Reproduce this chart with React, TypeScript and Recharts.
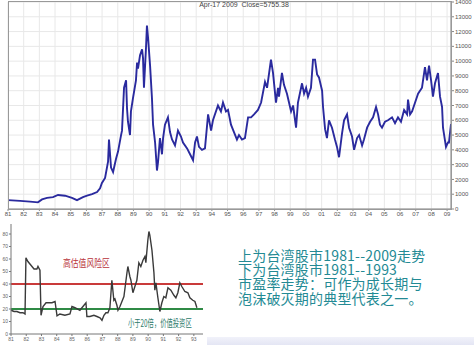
import React from 'react';
import { LineChart, Line, XAxis, YAxis, CartesianGrid, ReferenceLine } from 'recharts';

// 台湾加权指数 1981-2009（读图估值，横轴为年份小数）
const indexYears = [
  1981.0, 1981.77, 1982.4, 1982.91, 1983.17, 1983.49, 1983.87, 1984.19, 1984.64, 1985.08,
  1985.4, 1985.78, 1986.04, 1986.36, 1986.68, 1986.87, 1986.99, 1987.19, 1987.38, 1987.44,
  1987.57, 1987.7, 1987.89, 1988.02, 1988.21, 1988.27, 1988.4, 1988.53, 1988.59, 1988.65,
  1988.78, 1988.84, 1988.97, 1989.16, 1989.23, 1989.29, 1989.42, 1989.55, 1989.61, 1989.67,
  1989.8, 1989.86, 1989.93, 1990.06, 1990.18, 1990.25, 1990.38, 1990.5, 1990.57, 1990.69,
  1990.82, 1990.89, 1991.01, 1991.2, 1991.33, 1991.46, 1991.65, 1991.84, 1992.03, 1992.16,
  1992.42, 1992.61, 1992.8, 1992.93, 1993.05, 1993.18, 1993.37, 1993.56, 1993.76, 1993.95,
  1994.07, 1994.39, 1994.58, 1994.71, 1994.9, 1995.03, 1995.22, 1995.41, 1995.6, 1995.73,
  1995.92, 1996.11, 1996.31, 1996.5, 1996.69, 1996.94, 1997.14, 1997.39, 1997.52, 1997.77,
  1997.9, 1998.09, 1998.22, 1998.28, 1998.47, 1998.6, 1998.79, 1998.92, 1999.05, 1999.18,
  1999.37, 1999.49, 1999.75, 1999.88, 2000.01, 2000.13, 2000.32, 2000.45, 2000.58, 2000.71,
  2000.83, 2001.03, 2001.09, 2001.22, 2001.34, 2001.47, 2001.66, 2001.85, 2001.98, 2002.11,
  2002.3, 2002.43, 2002.62, 2002.75, 2002.94, 2003.07, 2003.26, 2003.39, 2003.58, 2003.7,
  2003.9, 2004.09, 2004.28, 2004.47, 2004.6, 2004.72, 2004.85, 2005.04, 2005.23, 2005.49,
  2005.68, 2005.87, 2006.06, 2006.26, 2006.45, 2006.51, 2006.64, 2006.77, 2006.96, 2007.15,
  2007.4, 2007.59, 2007.72, 2007.85, 2007.98, 2008.1, 2008.23, 2008.42, 2008.55, 2008.68,
  2008.74, 2008.93, 2009.06, 2009.12, 2009.25,
];
const indexValues = [
  600, 550, 500, 450, 650, 750, 800, 950, 900, 750,
  600, 800, 900, 1000, 1150, 1400, 1760, 2100, 3200, 4700,
  2800, 2500, 3400, 3900, 5000, 5300, 8200, 8700, 6800, 5900,
  5000, 6600, 7500, 8700, 9900, 9500, 10400, 10800, 10200, 8200,
  10900, 12400, 11600, 9700, 7500, 5700, 4500, 2600, 3200, 4800,
  3700, 4800, 5700, 6200, 5200, 4700, 4300, 5300, 4900, 4500,
  4100, 3700, 3300, 4500, 4900, 4200, 4000, 4100, 6400, 5300,
  6000, 7000, 6600, 7200, 6600, 6700, 5700, 5200, 4700, 5000,
  4700, 4800, 6200, 6200, 6400, 6700, 7200, 8600, 8200, 10100,
  9200, 7200, 8200, 7600, 9200, 8400, 7800, 7200, 6600, 7000,
  5500, 7200, 8500, 7800, 8200, 7600, 8200, 10100, 10100, 9100,
  8900, 8000, 6900, 5400, 4800, 6000, 5500, 4700, 4200, 3500,
  5100, 6000, 6400, 5500, 4900, 4000, 4800, 5000, 4300, 4700,
  5500, 5900, 6200, 6900, 6400, 5700, 5500, 5900, 6000, 6200,
  5800, 6200, 5900, 6700, 6400, 7400, 6400, 6600, 7200, 7800,
  8200, 9600, 8700, 9700, 8700, 7600, 8500, 9200, 7600, 6900,
  5500, 4200, 4500, 4500, 5750,
];

// 台湾股市市盈率 1981-1993
const peYears = [
  1981.0, 1981.2, 1981.39, 1981.59, 1981.79, 1981.92, 1981.98, 1982.11, 1982.31, 1982.51,
  1982.7, 1982.77, 1982.9, 1982.97, 1983.1, 1983.3, 1983.69, 1983.89, 1984.02, 1984.21,
  1984.54, 1984.87, 1985.0, 1985.2, 1985.52, 1985.79, 1985.92, 1985.98, 1986.18, 1986.44,
  1986.64, 1986.84, 1986.97, 1987.1, 1987.23, 1987.36, 1987.49, 1987.62, 1987.75, 1987.82,
  1987.95, 1988.02, 1988.15, 1988.28, 1988.41, 1988.61, 1988.67, 1988.8, 1988.87, 1989.0,
  1989.13, 1989.26, 1989.39, 1989.52, 1989.66, 1989.79, 1989.85, 1989.98, 1990.05, 1990.11,
  1990.25, 1990.38, 1990.44, 1990.51, 1990.64, 1990.77, 1990.9, 1991.03, 1991.16, 1991.3,
  1991.49, 1991.69, 1991.82, 1991.95, 1992.08, 1992.21, 1992.41, 1992.61, 1992.74, 1992.93,
  1993.07, 1993.2,
];
const peValues = [
  19, 18, 18, 17, 17, 16, 61, 58, 55, 52,
  52, 54, 51, 15, 22, 25, 25, 26, 14.5, 16,
  15, 16, 22, 21, 19, 23, 25, 14, 14, 15,
  14, 13, 11, 15, 17, 17, 21, 43, 27, 28,
  23, 19, 22, 26, 30, 49, 54, 46, 43, 33,
  38, 43, 57, 54, 59, 62, 57, 75, 82, 79,
  67, 49, 35, 41, 29, 18, 25, 30, 29, 37,
  35, 31, 29, 33, 41, 38, 34, 33, 29, 27,
  26, 21,
];

const yearTicks = [
  1981, 1982, 1983, 1984, 1985, 1986, 1987, 1988, 1989, 1990, 1991, 1992, 1993, 1994, 1995,
  1996, 1997, 1998, 1999, 2000, 2001, 2002, 2003, 2004, 2005, 2006, 2007, 2008, 2009,
];
const yearLabels = [
  '81', '82', '83', '84', '85', '86', '87', '88', '89', '90', '91', '92', '93', '94', '95',
  '96', '97', '98', '99', '00', '01', '02', '03', '04', '05', '06', '07', '08', '09',
];
const indexTicks = [0, 1000, 2000, 3000, 4000, 5000, 6000, 7000, 8000, 9000, 10000, 11000, 12000, 13000, 14000];
const peTicks = [0, 10, 20, 30, 40, 50, 60, 70, 80];
const peYearTicks = yearTicks.slice(0, 13);

const notes = [
  '上为台湾股市1981--2009走势',
  '下为台湾股市1981--1993',
  '市盈率走势：可作为成长期与',
  '泡沫破灭期的典型代表之一。',
];

const indexData = indexYears.map((t, i) => ({ t, v: indexValues[i] }));
const peData = peYears.map((t, i) => ({ t, pe: peValues[i] }));

const tickFont = { fontSize: 6, fill: '#555', fontFamily: 'Liberation Sans, Arial, sans-serif' };
const smallFont = { fontSize: 5, fill: '#666', fontFamily: 'Liberation Sans, Arial, sans-serif' };
const yearLabel = (v: number) => yearLabels[Math.round(v) - 1981] ?? '';

const App = () => {
  return (
    <div
      style={{
        position: 'absolute',
        left: 0,
        top: 0,
        width: 474,
        height: 345,
        background: '#fff',
        overflow: 'hidden',
        fontFamily: '"Noto Sans CJK SC", sans-serif',
      }}
    >
      <div style={{ position: 'absolute', left: 0, top: 0 }}>
        <LineChart width={474} height={221} data={indexData} margin={{ top: 2, right: 1, left: 8, bottom: 0 }}>
          <CartesianGrid stroke="#e8e8e8" strokeWidth={1} />
          <XAxis
            dataKey="t"
            type="number"
            domain={[1981, 2009.25]}
            ticks={yearTicks}
            tickFormatter={yearLabel}
            interval={0}
            height={12}
            tickSize={2}
            tickMargin={1}
            tick={tickFont}
            stroke="#888"
          />
          <YAxis
            orientation="right"
            domain={[0, 14000]}
            ticks={indexTicks}
            interval={0}
            width={22}
            tickSize={3}
            tickMargin={1}
            tick={{ ...tickFont, textAnchor: 'start' }}
            stroke="#888"
          />
          <Line
            type="linear"
            dataKey="v"
            stroke="#2a2a9e"
            strokeWidth={1.9}
            dot={false}
            isAnimationActive={false}
          />
        </LineChart>
      </div>
      <div
        style={{
          position: 'absolute',
          left: 8,
          top: 1,
          width: 444,
          height: 209,
          border: '1px solid #999',
          boxSizing: 'border-box',
          pointerEvents: 'none',
        }}
      />
      <div
        style={{
          position: 'absolute',
          left: 192,
          top: 1,
          width: 104,
          textAlign: 'center',
          fontSize: 7,
          lineHeight: '8px',
          color: '#444',
          fontFamily: 'Liberation Sans, Arial, sans-serif',
          whiteSpace: 'nowrap',
        }}
      >
        Apr-17 2009&nbsp;&nbsp;Close=5755.38
      </div>

      <div style={{ position: 'absolute', left: 0, top: 220 }}>
        <LineChart width={212} height={125} data={peData} margin={{ top: 4, right: 9, left: 0, bottom: 0 }}>
          <XAxis
            dataKey="t"
            type="number"
            domain={[1981, 1993.6]}
            ticks={peYearTicks}
            tickFormatter={yearLabel}
            interval={0}
            height={11}
            tickSize={2}
            tickMargin={1}
            tick={smallFont}
            stroke="#777"
          />
          <YAxis
            domain={[0, 88]}
            ticks={peTicks}
            interval={0}
            width={11}
            tickSize={2}
            tickMargin={1}
            tick={smallFont}
            stroke="#777"
          />
          <ReferenceLine y={40} stroke="#c93a3a" strokeWidth={2} />
          <ReferenceLine y={20} stroke="#2f8a45" strokeWidth={2} />
          <Line
            type="linear"
            dataKey="pe"
            stroke="#3a3a3a"
            strokeWidth={1.4}
            dot={false}
            isAnimationActive={false}
          />
        </LineChart>
      </div>
      <div
        style={{
          position: 'absolute',
          left: 63,
          top: 257,
          fontSize: 10,
          lineHeight: '12px',
          color: '#b8323a',
          whiteSpace: 'nowrap',
          transform: 'scaleX(0.78)',
          transformOrigin: 'left center',
        }}
      >
        高估值风险区
      </div>
      <div
        style={{
          position: 'absolute',
          left: 128,
          top: 317,
          fontSize: 10.5,
          lineHeight: '12px',
          color: '#2c7a6a',
          whiteSpace: 'nowrap',
          transform: 'scaleX(0.6)',
          transformOrigin: 'left center',
        }}
      >
        小于20倍，价值投资区
      </div>

      <div
        style={{
          position: 'absolute',
          left: 238,
          top: 248,
          fontSize: 14,
          lineHeight: '14.2px',
          letterSpacing: 0.2,
          color: '#238a94',
          whiteSpace: 'nowrap',
        }}
      >
        {notes.map((n) => (
          <div key={n}>{n}</div>
        ))}
      </div>
      <div
        style={{
          position: 'absolute',
          left: 207,
          top: 337,
          width: 267,
          height: 8,
          background: 'linear-gradient(to bottom, #f1f2fa, #e4e6f4)',
        }}
      />
    </div>
  );
};

export default App;
